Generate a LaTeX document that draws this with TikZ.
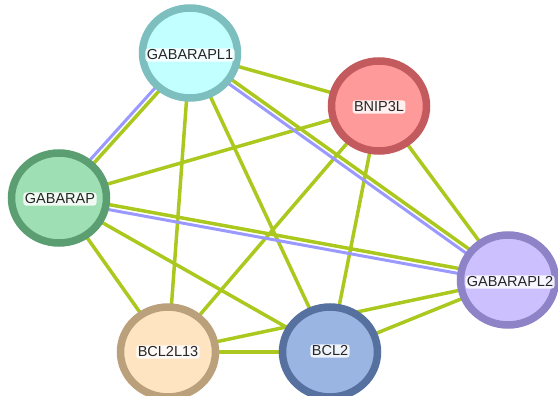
\documentclass[tikz,border=0pt]{standalone}
\usepackage{fontspec}
\setmainfont{Liberation Sans}
\usetikzlibrary{calc,backgrounds,shapes.geometric}
\definecolor{limeedge}{HTML}{AAC81E}
\definecolor{blueedge}{HTML}{9999FF}
\definecolor{fLone}{HTML}{C2FFFF}\definecolor{dLone}{HTML}{7DBFBF}
\definecolor{fBN}{HTML}{FF9A9A}\definecolor{dBN}{HTML}{C25A5E}
\definecolor{fGA}{HTML}{9EE0B4}\definecolor{dGA}{HTML}{5A9E72}
\definecolor{fLtwo}{HTML}{CDC0FF}\definecolor{dLtwo}{HTML}{8E83C6}
\definecolor{fBL}{HTML}{FFE4C2}\definecolor{dBL}{HTML}{BBA07C}
\definecolor{fBC}{HTML}{9AB5E2}\definecolor{dBC}{HTML}{56709F}
\begin{document}
\begin{tikzpicture}[x=1pt,y=-1pt,
  prot/.style={ellipse, minimum width=95pt, minimum height=90pt, line width=7.5pt, inner sep=0pt},
  lbl/.style={fill=white, fill opacity=0.85, text opacity=1, rounded corners=3pt, inner sep=1.5pt, text=black!85, font=\fontsize{14.5}{16}\selectfont},
  ev/.style={line width=3.5pt, draw=limeedge},
  ex/.style={line width=3pt, draw=blueedge}]
\useasboundingbox (0,0) rectangle (558,396);
\clip (0,0) rectangle (558,396);
% proteins
\node[prot, fill=fLone, draw=dLone] (L1) at (190,53) {};
\node[prot, fill=fBN, draw=dBN] (BN) at (379,106) {};
\node[prot, fill=fGA, draw=dGA] (GA) at (59,198) {};
\node[prot, fill=fLtwo, draw=dLtwo] (L2) at (508,280) {};
\node[prot, fill=fBL, draw=dBL] (BL) at (168,352) {};
\node[prot, fill=fBC, draw=dBC] (BC) at (330,352) {};
% labels
\node[lbl] (L1t) at (190,55) {GABARAPL1};
\node[lbl] (BNt) at (379,107) {BNIP3L};
\node[lbl] (GAt) at (60,199) {GABARAP};
\node[lbl] (L2t) at (510,282) {GABARAPL2};
\node[lbl] (BLt) at (168,352) {BCL2L13};
\node[lbl] (BCt) at (330,351) {BCL2};
% edges
\begin{pgfonlayer}{background}
\draw[ev] (L1.center) -- (BN.center);
\draw[ev] (L1.center) -- (BL.center);
\draw[ev] (L1.center) -- (BC.center);
\draw[ev] (BN.center) -- (GA.center);
\draw[ev] (BN.center) -- (BL.center);
\draw[ev] (BN.center) -- (BC.center);
\draw[ev] (BN.center) -- (L2.center);
\draw[ev] (GA.center) -- (BL.center);
\draw[ev] (GA.center) -- (BC.center);
\draw[ev] (BL.center) -- (BC.center);
\draw[ev] (BL.center) -- (L2.center);
\draw[ev] (BC.center) -- (L2.center);
% double edges
\draw[ev] ($(L1.center)!2.5pt!90:(GA.center)$) -- ($(GA.center)!2.5pt!-90:(L1.center)$);
\draw[ex] ($(L1.center)!2.5pt!-90:(GA.center)$) -- ($(GA.center)!2.5pt!90:(L1.center)$);
\draw[ev] ($(L1.center)!2.5pt!90:(L2.center)$) -- ($(L2.center)!2.5pt!-90:(L1.center)$);
\draw[ex] ($(L1.center)!2.5pt!-90:(L2.center)$) -- ($(L2.center)!2.5pt!90:(L1.center)$);
\draw[ev] ($(GA.center)!2.5pt!90:(L2.center)$) -- ($(L2.center)!2.5pt!-90:(GA.center)$);
\draw[ex] ($(GA.center)!2.5pt!-90:(L2.center)$) -- ($(L2.center)!2.5pt!90:(GA.center)$);
\end{pgfonlayer}
\end{tikzpicture}
\end{document}
